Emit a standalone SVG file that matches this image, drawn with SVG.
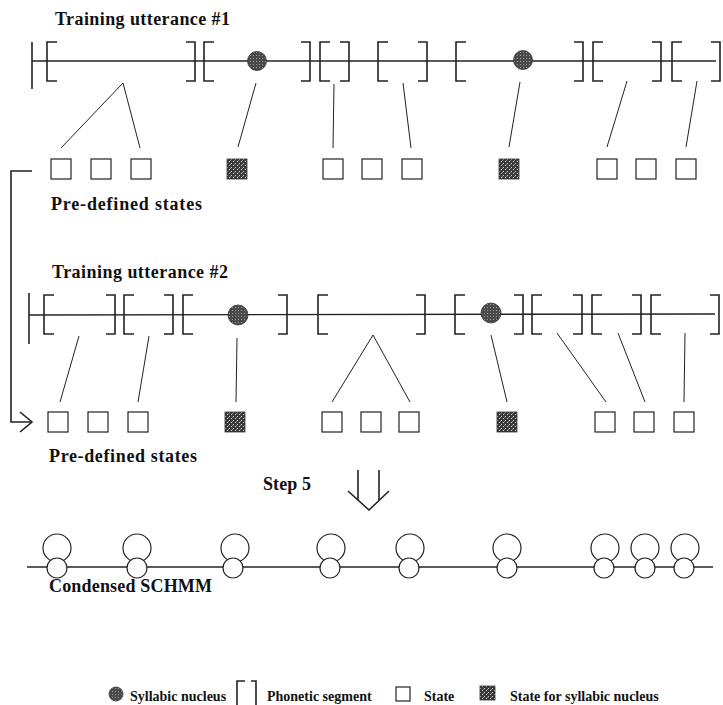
<svg xmlns="http://www.w3.org/2000/svg" xmlns:xlink="http://www.w3.org/1999/xlink" width="723" height="705" viewBox="0 0 723 705">
<style>
.t{font-family:"Liberation Serif","Times New Roman",serif;font-weight:bold;font-size:18px;fill:#111}
.lg{font-family:"Liberation Serif","Times New Roman",serif;font-weight:bold;font-size:14px;fill:#111}
.ax{stroke:#222;stroke-width:1.4;fill:none}
.br{stroke:#222;stroke-width:1.6;fill:none}
.cn{stroke:#222;stroke-width:1;fill:none}
.st{fill:#fff;stroke:#222;stroke-width:1.2}
.sn{fill:url(#spk);stroke:#333;stroke-width:0.8}
.nu{fill:url(#dots);stroke:#333;stroke-width:0.8}
.ci{fill:#fff;stroke:#222;stroke-width:1.2}
.ar{stroke:#222;stroke-width:1.6;fill:none}
</style>
<defs>
<pattern id="spk" width="4" height="4" patternUnits="userSpaceOnUse">
<rect width="4" height="4" fill="#3a3a3a"/>
<rect x="0" y="0" width="1" height="1" fill="#cfcfcf"/>
<rect x="2" y="2" width="1" height="1" fill="#cfcfcf"/>
<rect x="3" y="1" width="1" height="1" fill="#8a8a8a"/>
</pattern>
<pattern id="dots" width="3" height="3" patternUnits="userSpaceOnUse">
<rect width="3" height="3" fill="#4a4a4a"/>
<rect x="1" y="1" width="1" height="1" fill="#9a9a9a"/>
</pattern>
<path id="lb" class="br" d="M10,0 H0 V39 H10"/>
<path id="rb" class="br" d="M-9,0 H0 V39 H-9"/>
<rect id="sq" class="st" width="20" height="20"/>
<rect id="sqn" class="sn" width="20" height="20"/>
</defs>

<!-- Titles -->
<g id="labels">
<text class="t" x="55" y="25" textLength="175" lengthAdjust="spacing">Training utterance #1</text>
<text class="t" x="51" y="210" textLength="151" lengthAdjust="spacing">Pre-defined states</text>
<text class="t" x="52" y="278" textLength="176" lengthAdjust="spacing">Training utterance #2</text>
<text class="t" x="49" y="462" textLength="148" lengthAdjust="spacing">Pre-defined states</text>
<text class="t" x="263" y="490" textLength="48" lengthAdjust="spacing">Step 5</text>
<text class="t" x="49" y="592" textLength="163" lengthAdjust="spacing">Condensed SCHMM</text>
</g>

<!-- Utterance 1 -->
<g id="utterance1">
<line class="ax" x1="32" y1="61" x2="716" y2="61"/>
<line class="br" x1="32" y1="42" x2="32" y2="89"/>
<use xlink:href="#lb" x="47" y="42"/><use xlink:href="#rb" x="195" y="42"/>
<use xlink:href="#lb" x="204" y="42"/><use xlink:href="#rb" x="310" y="42"/>
<use xlink:href="#lb" x="320" y="42"/><use xlink:href="#rb" x="349" y="42"/>
<use xlink:href="#lb" x="378" y="42"/><use xlink:href="#rb" x="427" y="42"/>
<use xlink:href="#lb" x="456" y="42"/><use xlink:href="#rb" x="583" y="42"/>
<use xlink:href="#lb" x="593" y="42"/><use xlink:href="#rb" x="661" y="42"/>
<use xlink:href="#lb" x="672" y="42"/><use xlink:href="#rb" x="720" y="42"/>
<circle class="nu" cx="257" cy="61" r="9.5"/>
<circle class="nu" cx="523" cy="60" r="9.5"/>
</g>

<!-- Utterance 2 -->
<g id="utterance2">
<line class="ax" x1="29" y1="315" x2="715" y2="314"/>
<line class="br" x1="29" y1="293" x2="29" y2="344"/>
<use xlink:href="#lb" x="44" y="295"/><use xlink:href="#rb" x="115" y="295"/>
<use xlink:href="#lb" x="124" y="295"/><use xlink:href="#rb" x="173" y="295"/>
<use xlink:href="#lb" x="183" y="295"/><use xlink:href="#rb" x="287" y="295"/>
<use xlink:href="#lb" x="318" y="295"/><use xlink:href="#rb" x="425" y="295"/>
<use xlink:href="#lb" x="455" y="295"/><use xlink:href="#rb" x="523" y="295"/>
<use xlink:href="#lb" x="532" y="295"/><use xlink:href="#rb" x="582" y="295"/>
<use xlink:href="#lb" x="592" y="295"/><use xlink:href="#rb" x="641" y="295"/>
<use xlink:href="#lb" x="651" y="295"/><use xlink:href="#rb" x="719" y="295"/>
<circle class="nu" cx="238" cy="315" r="10"/>
<circle class="nu" cx="491" cy="313" r="10"/>
</g>

<!-- States row 1 -->
<g id="states1">
<g id="s1a"><use xlink:href="#sq" x="51" y="159"/></g>
<g id="s1b"><use xlink:href="#sq" x="91" y="159"/></g>
<g id="s1c"><use xlink:href="#sq" x="131" y="159"/></g>
<g id="s1d"><use xlink:href="#sqn" x="227" y="159"/></g>
<g id="s1e"><use xlink:href="#sq" x="323" y="159"/></g>
<g id="s1f"><use xlink:href="#sq" x="362" y="159"/></g>
<g id="s1g"><use xlink:href="#sq" x="402" y="159"/></g>
<g id="s1h"><use xlink:href="#sqn" x="499" y="159"/></g>
<g id="s1i"><use xlink:href="#sq" x="597" y="159"/></g>
<g id="s1j"><use xlink:href="#sq" x="636" y="159"/></g>
<g id="s1k"><use xlink:href="#sq" x="676" y="159"/></g>
</g>

<!-- States row 2 -->
<g id="states2">
<g id="s2a"><use xlink:href="#sq" x="48" y="412"/></g>
<g id="s2b"><use xlink:href="#sq" x="88" y="412"/></g>
<g id="s2c"><use xlink:href="#sq" x="128" y="412"/></g>
<g id="s2d"><use xlink:href="#sqn" x="225" y="412"/></g>
<g id="s2e"><use xlink:href="#sq" x="322" y="412"/></g>
<g id="s2f"><use xlink:href="#sq" x="361" y="412"/></g>
<g id="s2g"><use xlink:href="#sq" x="399" y="412"/></g>
<g id="s2h"><use xlink:href="#sqn" x="497" y="412"/></g>
<g id="s2i"><use xlink:href="#sq" x="595" y="412"/></g>
<g id="s2j"><use xlink:href="#sq" x="634" y="412"/></g>
<g id="s2k"><use xlink:href="#sq" x="674" y="412"/></g>
</g>

<!-- Connectors -->
<g id="connectors">
<line class="cn" x1="123" y1="83" x2="61" y2="148"/>
<line class="cn" x1="123" y1="83" x2="140" y2="148"/>
<line class="cn" x1="256" y1="83" x2="238" y2="147"/>
<line class="cn" x1="334" y1="84" x2="333" y2="148"/>
<line class="cn" x1="403" y1="83" x2="411" y2="148"/>
<line class="cn" x1="520" y1="82" x2="509" y2="147"/>
<line class="cn" x1="627" y1="81" x2="607" y2="147"/>
<line class="cn" x1="697" y1="81" x2="686" y2="147"/>

<line class="cn" x1="79" y1="336" x2="60" y2="402"/>
<line class="cn" x1="149" y1="336" x2="138" y2="402"/>
<line class="cn" x1="237" y1="338" x2="236" y2="402"/>
<line class="cn" x1="373" y1="335" x2="332" y2="402"/>
<line class="cn" x1="373" y1="335" x2="410" y2="402"/>
<line class="cn" x1="491" y1="335" x2="507" y2="402"/>
<line class="cn" x1="557" y1="333" x2="606" y2="402"/>
<line class="cn" x1="618" y1="333" x2="645" y2="402"/>
<line class="cn" x1="685" y1="333" x2="684" y2="402"/>

<path class="ar" d="M32,171 H11 V422 H31"/>
<polyline class="ar" points="20,412 32,422 20,432"/>

<path class="ar" d="M358,470 V500 M379,470 V500"/>
<polyline class="ar" points="348,491 369,510 389,491"/>
</g>

<!-- Condensed SCHMM -->
<g id="schmm">
<line class="ax" x1="27" y1="567" x2="713" y2="567"/>
<g id="m1"><circle class="ci" cx="57" cy="548" r="14"/><circle class="ci" cx="57" cy="568" r="10"/></g>
<g id="m2"><circle class="ci" cx="137" cy="548" r="14"/><circle class="ci" cx="137" cy="568" r="10"/></g>
<g id="m3"><circle class="ci" cx="235" cy="548" r="14"/><circle class="ci" cx="233" cy="568" r="10"/></g>
<g id="m4"><circle class="ci" cx="331" cy="548" r="14"/><circle class="ci" cx="330" cy="568" r="10"/></g>
<g id="m5"><circle class="ci" cx="410" cy="548" r="14"/><circle class="ci" cx="409" cy="568" r="10"/></g>
<g id="m6"><circle class="ci" cx="507" cy="548" r="14"/><circle class="ci" cx="507" cy="568" r="10"/></g>
<g id="m7"><circle class="ci" cx="605" cy="548" r="14"/><circle class="ci" cx="604" cy="568" r="10"/></g>
<g id="m8"><circle class="ci" cx="645" cy="548" r="14"/><circle class="ci" cx="645" cy="568" r="10"/></g>
<g id="m9"><circle class="ci" cx="685" cy="548" r="14"/><circle class="ci" cx="684" cy="568" r="10"/></g>
</g>

<!-- Legend -->
<g id="legend">
<circle class="nu" cx="116" cy="694" r="7"/>
<text class="lg" x="130" y="701">Syllabic nucleus</text>
<path class="br" d="M245,681 H237 V706"/>
<path class="br" d="M251,681 H256 V706"/>
<text class="lg" x="267" y="701">Phonetic segment</text>
<rect class="st" x="396" y="687" width="14" height="14"/>
<text class="lg" x="424" y="701">State</text>
<rect class="sn" x="480" y="686" width="15" height="14"/>
<text class="lg" x="510" y="701">State for syllabic nucleus</text>
</g>
</svg>
